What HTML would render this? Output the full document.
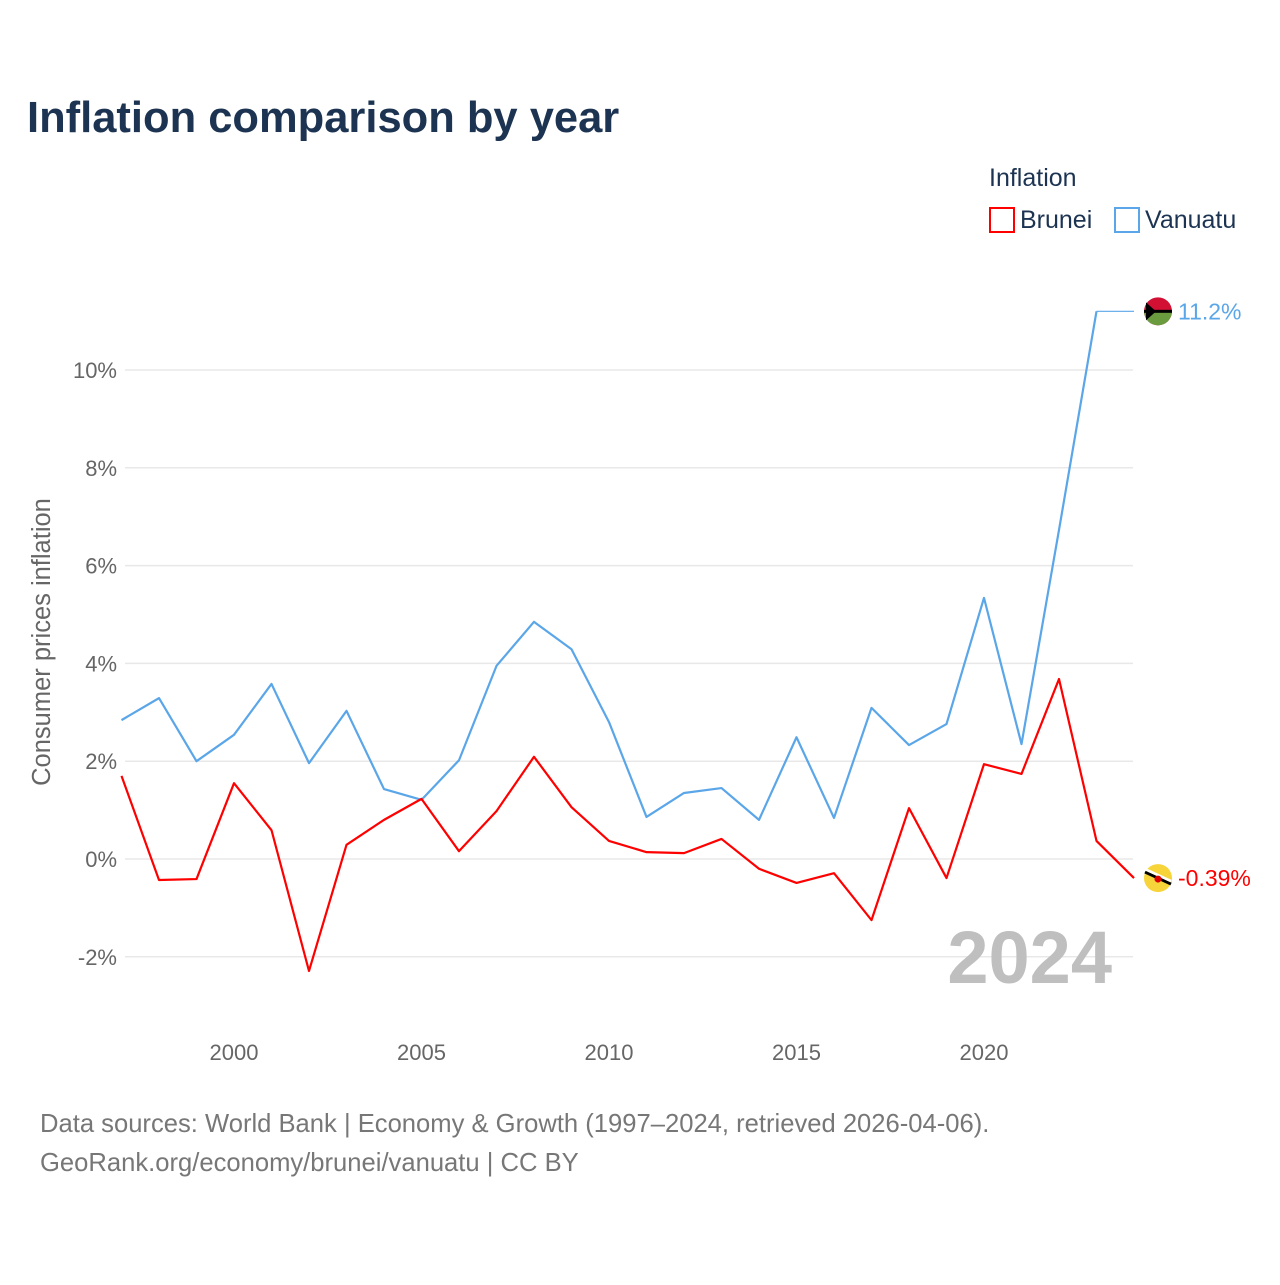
<!DOCTYPE html>
<html><head><meta charset="utf-8"><style>
body{margin:0;background:#fff;font-family:"Liberation Sans",sans-serif;}
svg text{font-family:"Liberation Sans",sans-serif;}
</style></head><body>
<svg width="1280" height="1280" xmlns="http://www.w3.org/2000/svg">
<text x="27" y="132" font-size="43.5" font-weight="bold" fill="#1c3352">Inflation comparison by year</text>
<text x="989" y="186" font-size="25" fill="#1c3352">Inflation</text>
<g><rect x="990" y="208" width="24" height="24" fill="none" stroke="#f00" stroke-width="2"/><text x="1020" y="228" font-size="25" fill="#1c3352">Brunei</text></g>
<g><rect x="1115" y="208" width="24" height="24" fill="none" stroke="#5aa6e8" stroke-width="2"/><text x="1145" y="228" font-size="25" fill="#1c3352">Vanuatu</text></g>
<g id="grid"></g>
<text transform="translate(50,642) rotate(-90)" text-anchor="middle" font-size="25.5" fill="#666">Consumer prices inflation</text>
<text x="1112" y="983" text-anchor="end" font-size="74" font-weight="bold" fill="#bfbfbf">2024</text>
<g id="series"></g>
<text x="40" y="1132" font-size="25.6" fill="#777">Data sources: World Bank | Economy &amp; Growth (1997–2024, retrieved 2026-04-06).</text>
<text x="40" y="1171" font-size="25.6" fill="#777">GeoRank.org/economy/brunei/vanuatu | CC BY</text>
</svg>
<script>
const years=[1997,1998,1999,2000,2001,2002,2003,2004,2005,2006,2007,2008,2009,2010,2011,2012,2013,2014,2015,2016,2017,2018,2019,2020,2021,2022,2023,2024];
const brunei=[1.70,-0.43,-0.41,1.55,0.59,-2.29,0.29,0.80,1.23,0.16,0.98,2.09,1.06,0.37,0.14,0.12,0.41,-0.20,-0.49,-0.29,-1.25,1.04,-0.39,1.94,1.74,3.68,0.37,-0.39];
const vanuatu=[2.84,3.29,2.00,2.54,3.58,1.96,3.03,1.43,1.21,2.02,3.95,4.85,4.29,2.80,0.86,1.35,1.45,0.80,2.49,0.84,3.09,2.33,2.76,5.34,2.35,6.73,11.2,11.2];
const yTicks=[-2,0,2,4,6,8,10];
const xTicks=[2000,2005,2010,2015,2020];
const NS="http://www.w3.org/2000/svg";
const x=v=>121.5+(v-1997)*37.5;
const y=v=>859-v*48.9;
const grid=document.getElementById('grid'),ser=document.getElementById('series');
function mk(t,a,p){const e=document.createElementNS(NS,t);for(const k in a)e.setAttribute(k,a[k]);p.appendChild(e);return e;}
yTicks.forEach(t=>{
 const l=mk('line',{x1:125,x2:1133,y1:y(t),y2:y(t),stroke:'#e8e8e8','stroke-width':1.5},grid);
 
 
 const tx=mk('text',{x:117,y:y(t)+8,'text-anchor':'end','font-size':22,fill:'#666'},grid);
 tx.textContent=t+'%';
 
 
});
xTicks.forEach(t=>{
 const tx=mk('text',{x:x(t),y:1060,'text-anchor':'middle','font-size':22,fill:'#666'},grid);
 tx.textContent=t;
 
 
});
function line(vals,col,name,n){
 const p=mk('polyline',{points:vals.slice(0,n).map((v,i)=>x(years[i])+','+y(v)).join(' '),fill:'none',stroke:col,'stroke-width':2.2,'stroke-linejoin':'round'},ser);
 
 
}
line(vanuatu,'#5aa6e8','vanuatu-line',vanuatu.length-1);
const ext=mk('line',{x1:x(years[years.length-2]),x2:x(years[years.length-1]),y1:y(vanuatu[vanuatu.length-2]),y2:y(vanuatu[vanuatu.length-1]),stroke:'#5aa6e8','stroke-width':1.2},ser);


line(brunei,'#f00','brunei-line',brunei.length);
function endLabel(v,col,name,flag){
 const yy=y(v);
 const g=mk('g',{},ser);
 
 
 if(flag==='vu'){
  mk('circle',{cx:1158,cy:yy,r:14,fill:'#d21034'},g);
  mk('path',{d:`M1144 ${yy} A14 14 0 0 0 1172 ${yy} Z`,fill:'#6a9b3e'},g);
  mk('rect',{x:1144,y:yy-1.5,width:28,height:3,fill:'#000'},g);
  mk('path',{d:`M1146 ${yy-9} L1156 ${yy} L1146 ${yy+9} Z`,fill:'#000'},g);
 } else {
  mk('circle',{cx:1158,cy:yy,r:14,fill:'#f7d43a'},g);
  mk('path',{d:`M1145 ${yy-6} L1171 ${yy+6}`,stroke:'#000','stroke-width':3},g);
  mk('path',{d:`M1145 ${yy-9} L1171 ${yy+3}`,stroke:'#fff','stroke-width':2.5},g);
  mk('circle',{cx:1158,cy:yy+1,r:3.5,fill:'#d00'},g);
 }
 const t=mk('text',{x:1178,y:yy+8,'font-size':23,fill:col},g);
 t.textContent=v+'%';
}
endLabel(vanuatu[vanuatu.length-1],'#5aa6e8','vanuatu-end-label','vu');
endLabel(brunei[brunei.length-1],'#f00','brunei-end-label','bn');
</script>
</body></html>
